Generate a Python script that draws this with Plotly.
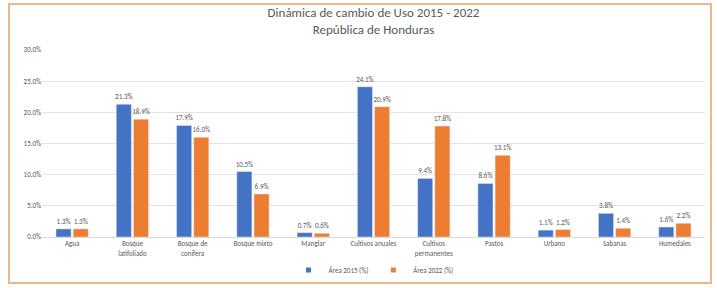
import plotly.graph_objects as go

categories = ["Agua", "Bosque<br>latifoliado", "Bosque de<br>conífera", "Bosque mixto", "Manglar",
              "Cultivos anuales", "Cultivos<br>permanentes", "Pastos", "Urbano", "Sabanas", "Humedales"]
area_2015 = [1.3, 21.3, 17.9, 10.5, 0.7, 24.1, 9.4, 8.6, 1.1, 3.8, 1.6]
area_2022 = [1.3, 18.9, 16.0, 6.9, 0.6, 20.9, 17.8, 13.1, 1.2, 1.4, 2.2]
y_ticks = [0, 5, 10, 15, 20, 25, 30]

W, H = 717, 288
L, R, T, B = 42, 12, 50, 51
pw, ph = W - L - R, H - T - B

def px_x(x):
    return (x - L) / pw

def px_y(y):
    return (H - B - y) / ph

fig = go.Figure()
series = [("Área 2015 (%)", area_2015, "#4472C4"), ("Área 2022 (%)", area_2022, "#ED7D31")]
for name, vals, col in series:
    fig.add_trace(go.Bar(
        x=categories, y=vals, name=name, marker_color=col, showlegend=False,
        text=vals, texttemplate="%{y:.1f}%", textposition="outside", constraintext="none",
        textfont=dict(size=7, color="#595959"), cliponaxis=False,
    ))
for name, vals, col in series:
    fig.add_trace(go.Scatter(
        x=[None], y=[None], mode="markers", name=name,
        marker=dict(symbol="square", size=5, color=col), showlegend=True,
    ))

fig.update_layout(
    width=W, height=H,
    margin=dict(l=L, r=R, t=T, b=B, autoexpand=False),
    paper_bgcolor="white", plot_bgcolor="white",
    barmode="group", bargap=0.43, bargroupgap=0.12,
    font=dict(family="Calibri, Carlito, Liberation Sans, sans-serif", color="#595959"),
    title=dict(text="Dinámica de cambio de Uso 2015 - 2022<br>República de Honduras",
               x=0.5, xref="paper", y=1 - 17 / H, yanchor="top",
               font=dict(size=13, color="#595959")),
    showlegend=True,
    legend=dict(orientation="h", x=0.5, xanchor="center", y=px_y(270), yanchor="middle",
                font=dict(size=7, color="#595959"), bgcolor="rgba(0,0,0,0)",
                itemwidth=30, tracegroupgap=0),
    xaxis=dict(tickfont=dict(size=7, color="#595959"), showline=True, linecolor="#D9D9D9",
               ticks="", showgrid=False, automargin=False),
    yaxis=dict(range=[0, 30], tickvals=y_ticks, ticktext=[f"{v:.1f}%" for v in y_ticks],
               tickfont=dict(size=7, color="#595959"), gridcolor="#E3E3E3", zeroline=False,
               showline=False, ticks="", automargin=False),
    shapes=[dict(type="rect", xref="paper", yref="paper",
                 x0=px_x(9), x1=px_x(711), y0=px_y(283), y1=px_y(4),
                 line=dict(color="#EDB88B", width=2), fillcolor="rgba(0,0,0,0)", layer="above")],
)

fig.write_html("out.html", config={"displayModeBar": False},
               post_script="document.body.style.margin='0';document.body.style.overflow='hidden';")
